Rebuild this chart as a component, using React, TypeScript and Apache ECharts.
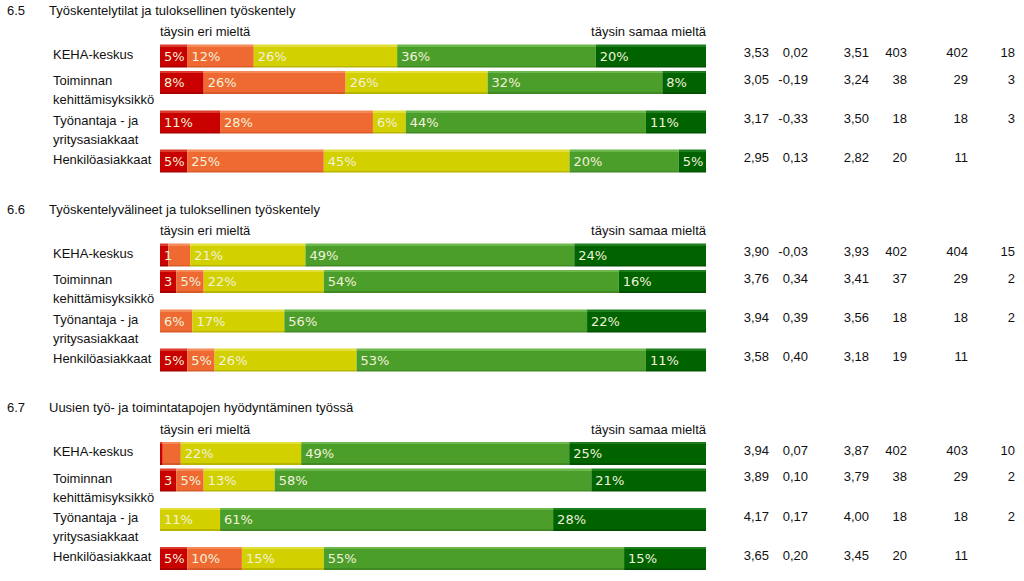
import React, { useEffect, useRef } from "react";
import * as echarts from "echarts";

// ---- data ----
const sectionNumbers = ["6.5", "6.6", "6.7"];
const sectionTitles = [
  "Työskentelytilat ja tuloksellinen työskentely",
  "Työskentelyvälineet ja tuloksellinen työskentely",
  "Uusien työ- ja toimintatapojen hyödyntäminen työssä",
];
const scaleLow = "täysin eri mieltä";
const scaleHigh = "täysin samaa mieltä";
const categories = [
  "KEHA-keskus",
  "Toiminnan\nkehittämisyksikkö",
  "Työnantaja - ja\nyritysasiakkaat",
  "Henkilöasiakkaat",
];

// distribution (%) per section, per row: [täysin eri, eri, ei samaa/eri, samaa, täysin samaa]
const dist65 = [
  [5, 12, 26, 36, 20],
  [8, 26, 26, 32, 8],
  [11, 28, 6, 44, 11],
  [5, 25, 45, 20, 5],
];
const dist66 = [
  [1.5, 4, 21, 49, 24],
  [3, 5, 22, 54, 16],
  [0, 6, 17, 56, 22],
  [5, 5, 26, 53, 11],
];
const dist67 = [
  [0.5, 3.3, 22, 49, 25],
  [3, 5, 13, 58, 21],
  [0, 0, 11, 61, 28],
  [5, 10, 15, 55, 15],
];
const distributions = [dist65, dist66, dist67];

// segment label texts that differ from the value (clipped / hidden in the picture)
const labelOverrides: Record<string, string> = {
  "1-0-0": "1",
  "1-0-1": "",
  "1-1-0": "3",
  "2-0-0": "",
  "2-0-1": "",
  "2-1-0": "3",
};

const mean = [
  [3.53, 3.05, 3.17, 2.95],
  [3.9, 3.76, 3.94, 3.58],
  [3.94, 3.89, 4.17, 3.65],
];
const change = [
  [0.02, -0.19, -0.33, 0.13],
  [-0.03, 0.34, 0.39, 0.4],
  [0.07, 0.1, 0.17, 0.2],
];
const prevMean = [
  [3.51, 3.24, 3.5, 2.82],
  [3.93, 3.41, 3.56, 3.18],
  [3.87, 3.79, 4.0, 3.45],
];
const nNow = [
  [403, 38, 18, 20],
  [402, 37, 18, 19],
  [402, 38, 18, 20],
];
const nPrev = [
  [402, 29, 18, 11],
  [404, 29, 18, 11],
  [403, 29, 18, 11],
];
const nEos: (number | null)[][] = [
  [18, 3, 3, null],
  [15, 2, 2, null],
  [10, 2, 2, null],
];

// ---- styles ----
const levelColors = ["#c90000", "#ef6a32", "#d3d000", "#4c9e2a", "#006300"];
const levelLight = ["#dc3a2a", "#f48a58", "#e2df3a", "#6cb84c", "#1e7e1e"];
const levelDark = ["#a80000", "#d85a28", "#b8b500", "#3f8a22", "#005200"];
const FONT = "Liberation Sans";
const BAR_FONT = "DejaVu Sans";

const sectionOffset = [0, 199, 397.5];
const rowCenter = [56, 82.5, 122, 161];
const titleCenter = 10.5;
const scaleCenter = 32;
const BAR_LEFT = 160;
const BAR_RIGHT = 706;
const BAR_H = 23;

const fmt = (v: number) => v.toFixed(2).replace(".", ",");

function buildOption() {
  const grid: any[] = [];
  const xAxis: any[] = [];
  const yAxis: any[] = [];
  const series: any[] = [];
  const title: any[] = [];

  const txt = { fontSize: 13, fontWeight: "normal", fontFamily: FONT, color: "#111" };

  sectionNumbers.forEach((num, s) => {
    const off = sectionOffset[s];
    title.push({ text: num, left: 7, top: off + titleCenter - 7, padding: 0, textStyle: txt });
    title.push({ text: sectionTitles[s], left: 49, top: off + titleCenter - 7, padding: 0, textStyle: txt });
    title.push({ text: scaleLow, left: BAR_LEFT, top: off + scaleCenter - 7, padding: 0, textStyle: txt });
    title.push({ text: scaleHigh, right: 1024 - BAR_RIGHT, top: off + scaleCenter - 7, padding: 0, textStyle: txt });

    categories.forEach((cat, r) => {
      const gi = grid.length;
      const center = off + rowCenter[r];
      grid.push({ left: BAR_LEFT, right: 1024 - BAR_RIGHT, top: center - BAR_H / 2, height: BAR_H });
      xAxis.push({ type: "value", gridIndex: gi, min: 0, max: 100, show: false });
      const twoLine = cat.indexOf("\n") >= 0;
      yAxis.push({
        type: "category",
        gridIndex: gi,
        data: [cat],
        axisLine: { show: false },
        axisTick: { show: false },
        splitLine: { show: false },
        axisLabel: {
          align: "left",
          margin: BAR_LEFT - 53,
          fontSize: 13,
          fontFamily: FONT,
          color: "#111",
          padding: twoLine ? [15, 0, 0, 0] : [0, 0, 4, 0],
          formatter: (v: string) =>
            v
              .split("\n")
              .map((line) => `{n|${line}}`)
              .join("\n"),
          rich: {
            n: { fontSize: 13, fontFamily: FONT, color: "#111", lineHeight: 19 },
          },
        },
      });
      const eos = nEos[s][r];
      yAxis.push({
        type: "category",
        gridIndex: gi,
        position: "right",
        data: [cat],
        axisLine: { show: false },
        axisTick: { show: false },
        splitLine: { show: false },
        axisLabel: {
          margin: 14,
          fontSize: 13,
          fontFamily: FONT,
          color: "#111",
          padding: [0, 0, 7, 0],
          formatter: () =>
            `{a|${fmt(mean[s][r])}}{b|${fmt(change[s][r])}}{c|${fmt(prevMean[s][r])}}{d|${nNow[s][r]}}{e|${nPrev[s][r]}}{f|${eos === null ? "" : eos}}`,
          rich: {
            a: { width: 49, align: "right", fontSize: 13, fontFamily: FONT, color: "#111" },
            b: { width: 39, align: "right", fontSize: 13, fontFamily: FONT, color: "#111" },
            c: { width: 61, align: "right", fontSize: 13, fontFamily: FONT, color: "#111" },
            d: { width: 38, align: "right", fontSize: 13, fontFamily: FONT, color: "#111" },
            e: { width: 61, align: "right", fontSize: 13, fontFamily: FONT, color: "#111" },
            f: { width: 47, align: "right", fontSize: 13, fontFamily: FONT, color: "#111" },
          },
        },
      });

      const vals = distributions[s][r];
      const total = vals.reduce((a, b) => a + b, 0);
      vals.forEach((v, l) => {
        const key = `${s}-${r}-${l}`;
        const labelText =
          key in labelOverrides ? labelOverrides[key] : v > 0 ? `${Math.round(v)}%` : "";
        series.push({
          type: "bar",
          xAxisIndex: gi,
          yAxisIndex: gi * 2,
          stack: "g" + gi,
          barWidth: BAR_H,
          data: [(v / total) * 100],
          itemStyle: {
            color: new echarts.graphic.LinearGradient(0, 0, 0, 1, [
              { offset: 0, color: levelLight[l] },
              { offset: 0.09, color: levelLight[l] },
              { offset: 0.1, color: levelColors[l] },
              { offset: 0.92, color: levelColors[l] },
              { offset: 0.93, color: levelDark[l] },
              { offset: 1, color: levelDark[l] },
            ]),
          },
          label: {
            show: labelText !== "",
            position: "insideLeft",
            distance: 4,
            formatter: () => labelText,
            fontSize: 13,
            fontFamily: BAR_FONT,
            color: "#f2f2dc",
          },
        });
      });
    });
  });

  return { animation: false, backgroundColor: "#ffffff", title, grid, xAxis, yAxis, series };
}

export default function App() {
  const ref = useRef<HTMLDivElement>(null);
  useEffect(() => {
    if (!ref.current) return;
    const chart = echarts.init(ref.current, undefined, { renderer: "svg" });
    chart.setOption(buildOption() as any);
    return () => chart.dispose();
  }, []);
  return (
    <div
      ref={ref}
      style={{ position: "absolute", left: 0, top: 0, width: 1024, height: 581, background: "#fff" }}
    />
  );
}
